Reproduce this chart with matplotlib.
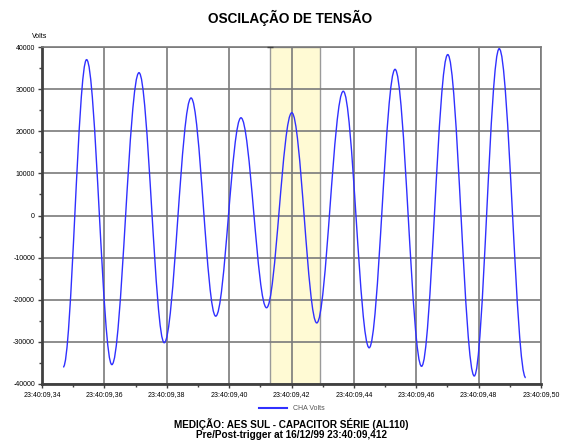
import numpy as np
import matplotlib
matplotlib.use('Agg')
import matplotlib.pyplot as plt
from matplotlib.path import Path
from matplotlib.patches import PathPatch
from matplotlib.lines import Line2D

plt.rcParams['font.family'] = ['Liberation Sans', 'DejaVu Sans']

# --- dados (segundos após 23:40:09, volts) ---
# picos e vales da oscilação, em ordem
ext_t = [0.3468, 0.3543, 0.3624, 0.3711, 0.3792, 0.3878, 0.3957, 0.4038, 0.4120, 0.4201,
         0.4281, 0.4366, 0.4449, 0.4532, 0.4617, 0.4701, 0.4786, 0.4866, 0.4951]
ext_v = [-36000, 37000, -35400, 33900, -30200, 27900, -23900, 23200, -21900, 24400,
         -25500, 29500, -31400, 34700, -35800, 38200, -38100, 39600, -38500]

# faixa destacada (trigger)
band = [0.4131, 0.4291]

x_ticks = [0.34, 0.36, 0.38, 0.40, 0.42, 0.44, 0.46, 0.48, 0.50]
x_labels = ['23:40:09,34', '23:40:09,36', '23:40:09,38', '23:40:09,40', '23:40:09,42',
            '23:40:09,44', '23:40:09,46', '23:40:09,48', '23:40:09,50']
y_ticks = [40000, 30000, 20000, 10000, 0, -10000, -20000, -30000, -40000]

fig = plt.figure(figsize=(5.64, 4.42), dpi=100)
ax = fig.add_axes([42 / 564, 1 - 384 / 442, (541 - 42) / 564, (384 - 47) / 442])

# --- curva: meia onda entre picos com curvas de Bezier ---
k = 0.36
verts = [(ext_t[0], ext_v[0])]
codes = [Path.MOVETO]
for i in range(1, len(ext_t)):
    t0, v0 = ext_t[i - 1], ext_v[i - 1]
    t1, v1 = ext_t[i], ext_v[i]
    dt = t1 - t0
    verts += [(t0 + k * dt, v0), (t1 - k * dt, v1), (t1, v1)]
    codes += [Path.CURVE4, Path.CURVE4, Path.CURVE4]
ax.add_patch(PathPatch(Path(verts, codes), facecolor='none', edgecolor='#3030ff', lw=1.0, zorder=3))

ax.axvspan(band[0], band[1], facecolor='#fffad4', edgecolor='#9a9a9a', lw=1.0, zorder=0)
ax.plot([band[0]], [40000], marker='_', color='#404040', markersize=4, clip_on=False, zorder=5)

ax.set_xlim(0.34, 0.50)
ax.set_ylim(-40000, 40000)
ax.set_xticks(x_ticks)
ax.set_xticklabels(x_labels)
ax.set_xticks(np.arange(0.35, 0.50, 0.02), minor=True)
ax.set_yticks(y_ticks)
ax.set_yticklabels([str(v) for v in y_ticks])
ax.set_yticks(np.arange(-35000, 40000, 10000), minor=True)

ax.grid(True, which='major', color='#7a7a7a', lw=1.2)
ax.tick_params(axis='both', which='major', labelsize=5, length=3, width=1, color='#404040', pad=2)
ax.tick_params(axis='both', which='minor', length=2, width=1, color='#404040')

for s in ['left', 'bottom']:
    ax.spines[s].set_color('#404040')
    ax.spines[s].set_linewidth(2)
for s in ['top', 'right']:
    ax.spines[s].set_color('#7a7a7a')
    ax.spines[s].set_linewidth(1.2)

fig.text(290 / 564, 1 - 18 / 442, 'OSCILAÇÃO DE TENSÃO', ha='center', va='center',
         fontsize=9.8, fontweight='bold')
fig.text(40 / 564, 1 - 36 / 442, 'Volts', ha='center', va='center', fontsize=5)

fig.legend(handles=[Line2D([], [], color='#3030ff', lw=1.5)], labels=['CHA Volts'],
           loc='center', bbox_to_anchor=(292 / 564, 1 - 409 / 442), frameon=False,
           fontsize=5, handlelength=4, labelcolor='#555555')

fig.text(291 / 564, 1 - 424 / 442, 'MEDIÇÃO: AES SUL - CAPACITOR SÉRIE (AL110)', ha='center',
         va='center', fontsize=7.2, fontweight='bold')
fig.text(291 / 564, 1 - 435 / 442, 'Pre/Post-trigger at 16/12/99 23:40:09,412', ha='center',
         va='center', fontsize=7.2, fontweight='bold')

fig.savefig('out.png', dpi=100)
